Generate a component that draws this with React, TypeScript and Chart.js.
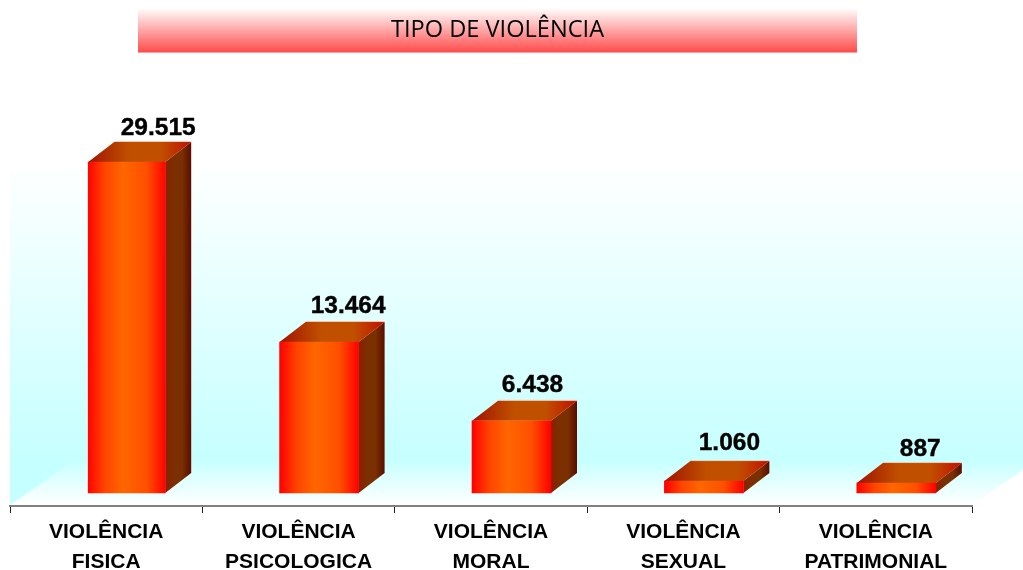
import React, { useEffect, useRef } from "react";
import { Chart, registerables } from "chart.js";

Chart.register(...registerables);

const titleText = "TIPO DE VIOLÊNCIA";
const categories: string[][] = [
  ["VIOLÊNCIA", "FISICA"],
  ["VIOLÊNCIA", "PSICOLOGICA"],
  ["VIOLÊNCIA", "MORAL"],
  ["VIOLÊNCIA", "SEXUAL"],
  ["VIOLÊNCIA", "PATRIMONIAL"],
];
const values: number[] = [29515, 13464, 6438, 1060, 887];
const valueLabels: string[] = ["29.515", "13.464", "6.438", "1.060", "887"];
const labelOffsetX: number[] = [31.5, 29, 21, 25.5, 24];
const labelOffsetY: number[] = [27, 29, 29, 31, 27];

const DEPTH_X = 26;
const DEPTH_Y = 20;
const SHIFT_X = 20.5;
const FLOOR_Y = 460;
const WALL_TOP = 162;

function gradient(ctx: CanvasRenderingContext2D, x0: number, x1: number, stops: [number, string][]) {
  const g = ctx.createLinearGradient(x0, 0, x1, 0);
  stops.forEach(([p, c]) => g.addColorStop(p, c));
  return g;
}

const scene = {
  id: "scene",
  afterLayout(chart: any) {
    // title band is centred on 497.5 rather than on the canvas
    const t = chart.titleBlock;
    if (t) {
      t.left += 6.5;
      t.right += 6.5;
    }
  },
  afterDatasetsUpdate(chart: any) {
    chart.getDatasetMeta(0).data.forEach((el: any, i: number) => {
      el.x += SHIFT_X;
      if (i === 0) el.width = 77;
    });
  },
  beforeDraw(chart: any) {
    const { ctx, chartArea } = chart;
    const left = chartArea.left;
    const right = chartArea.right;
    const bottom = chartArea.bottom - 1;
    const w = chart.width;
    const backX = left + 66;
    ctx.save();
    // title band
    const band = ctx.createLinearGradient(0, 8, 0, 52);
    band.addColorStop(0, "#ffffff");
    band.addColorStop(1, "#ff4d4d");
    ctx.fillStyle = band;
    ctx.fillRect(138, 8, 719, 44);
    ctx.fillStyle = "#ff9a9a";
    ctx.fillRect(138, 52, 719, 1);
    // back + side wall
    const wall = ctx.createLinearGradient(0, WALL_TOP, 0, FLOOR_Y);
    wall.addColorStop(0, "#ffffff");
    wall.addColorStop(1, "#c6ffff");
    ctx.fillStyle = wall;
    ctx.beginPath();
    ctx.moveTo(left, WALL_TOP);
    ctx.lineTo(w, WALL_TOP);
    ctx.lineTo(w, FLOOR_Y);
    ctx.lineTo(backX, FLOOR_Y);
    ctx.lineTo(left, bottom);
    ctx.closePath();
    ctx.fill();
    // floor
    const floor = ctx.createLinearGradient(0, FLOOR_Y, 0, bottom);
    floor.addColorStop(0, "#c6ffff");
    floor.addColorStop(1, "#ffffff");
    ctx.fillStyle = floor;
    ctx.beginPath();
    ctx.moveTo(backX, FLOOR_Y);
    ctx.lineTo(w, FLOOR_Y);
    ctx.lineTo(w, FLOOR_Y + 10);
    ctx.lineTo(right, bottom);
    ctx.lineTo(left, bottom);
    ctx.closePath();
    ctx.fill();
    ctx.restore();
  },
  beforeDatasetsDraw(chart: any) {
    const { ctx } = chart;
    ctx.save();
    chart.getDatasetMeta(0).data.forEach((el: any) => {
      const x0 = el.x - el.width / 2;
      const x1 = el.x + el.width / 2;
      const top = el.y;
      const base = el.base;
      // side face
      ctx.fillStyle = gradient(ctx, x1, x1 + DEPTH_X, [[0, "#8a2000"], [0.35, "#7a3000"], [0.65, "#7a3000"], [1, "#5a0c00"]]);
      ctx.beginPath();
      ctx.moveTo(x1, top);
      ctx.lineTo(x1 + DEPTH_X, top - DEPTH_Y);
      ctx.lineTo(x1 + DEPTH_X, base - DEPTH_Y);
      ctx.lineTo(x1, base);
      ctx.closePath();
      ctx.fill();
      // top face
      ctx.fillStyle = gradient(ctx, x0, x1 + DEPTH_X, [[0, "#a01400"], [0.4, "#c05000"], [0.7, "#c05000"], [1, "#c01000"]]);
      ctx.beginPath();
      ctx.moveTo(x0, top);
      ctx.lineTo(x0 + DEPTH_X, top - DEPTH_Y);
      ctx.lineTo(x1 + DEPTH_X, top - DEPTH_Y);
      ctx.lineTo(x1, top);
      ctx.closePath();
      ctx.fill();
      // pale highlight along the back edge of the top face
      ctx.strokeStyle = "rgba(240,190,160,0.8)";
      ctx.lineWidth = 1;
      ctx.beginPath();
      ctx.moveTo(x0 + DEPTH_X, top - DEPTH_Y - 0.5);
      ctx.lineTo(x1 + DEPTH_X, top - DEPTH_Y - 0.5);
      ctx.stroke();
    });
    ctx.restore();
  },
  afterDatasetsDraw(chart: any) {
    const { ctx } = chart;
    ctx.save();
    ctx.fillStyle = "#000000";
    ctx.strokeStyle = "#000000";
    ctx.lineWidth = 0.4;
    ctx.font = "bold 24.5px 'Liberation Sans'";
    ctx.textAlign = "center";
    ctx.textBaseline = "alphabetic";
    chart.getDatasetMeta(0).data.forEach((el: any, i: number) => {
      const x = el.x + labelOffsetX[i];
      const y = el.y - labelOffsetY[i];
      ctx.fillText(valueLabels[i], x, y);
      ctx.strokeText(valueLabels[i], x, y);
    });
    ctx.restore();
  },
};

export default function App() {
  const ref = useRef<HTMLCanvasElement>(null);
  useEffect(() => {
    document.body.style.margin = "0";
    const canvas = ref.current!;
    const chart = new Chart(canvas, {
      type: "bar",
      data: {
        labels: categories,
        datasets: [
          {
            data: values,
            barThickness: 79,
            backgroundColor: (c: any) => {
              const x = c.chart.scales.x;
              const px = x ? x.getPixelForValue(c.dataIndex) : NaN;
              if (!Number.isFinite(px)) return "#ff3300";
              const cx = px + SHIFT_X;
              return gradient(c.chart.ctx, cx - 39.5, cx + 39.5, [
                [0, "#ff0000"],
                [0.22, "#ff4400"],
                [0.45, "#ff6600"],
                [0.75, "#ff5000"],
                [1, "#ff0000"],
              ]);
            },
            borderWidth: 0,
          },
        ],
      },
      options: {
        responsive: false,
        animation: false,
        events: [],
        layout: { padding: { left: 10, right: 51, top: 0, bottom: 0 } },
        plugins: {
          legend: { display: false },
          tooltip: { enabled: false },
          title: {
            display: true,
            text: titleText,
            color: "#000000",
            font: { family: "'Open Sans'", size: 23.6, weight: "normal", lineHeight: 1.2 },
            padding: { top: 16, bottom: 15.7 },
          },
        },
        scales: {
          x: {
            afterFit: (s: any) => {
              s.height = 64;
            },
            border: { color: "#808080", width: 2 },
            grid: { display: true, drawOnChartArea: false, tickLength: 7, tickColor: "#222222", offset: true },
            ticks: {
              color: "#000000",
              font: { family: "'Liberation Sans'", size: 21, weight: "bold", lineHeight: 1.43 },
              padding: 4,
              maxRotation: 0,
              autoSkip: false,
            },
          },
          y: {
            display: false,
            min: -1159,
            max: 38609,
          },
        },
      },
      plugins: [scene],
    } as any);
    return () => chart.destroy();
  }, []);
  return <canvas ref={ref} width={1023} height={570} style={{ display: "block" }} />;
}
